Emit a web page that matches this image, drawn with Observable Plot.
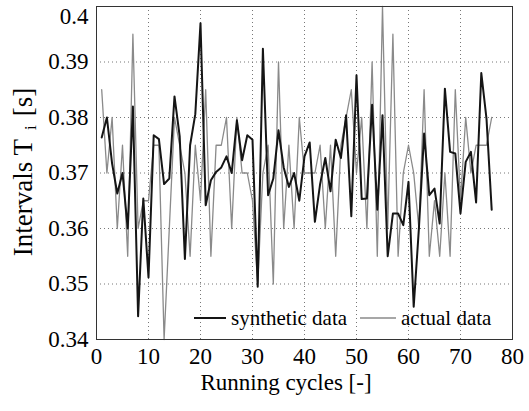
<!DOCTYPE html>
<html><head><meta charset="utf-8">
<script src="https://cdn.jsdelivr.net/npm/d3@7"></script>
<script src="https://cdn.jsdelivr.net/npm/@observablehq/plot@0.6"></script>
<style>
html,body{margin:0;padding:0;background:#fff}
</style>
</head><body><div id="chart"></div>
<script>
const cycles = [1,2,3,4,5,6,7,8,9,10,11,12,13,14,15,16,17,18,19,20,21,22,23,24,25,26,27,28,29,30,31,32,33,34,35,36,37,38,39,40,41,42,43,44,45,46,47,48,49,50,51,52,53,54,55,56,57,58,59,60,61,62,63,64,65,66,67,68,69,70,71,72,73,74,75,76];
const synthetic = [0.3764,0.380,0.3717,0.3663,0.370,0.360,0.382,0.3442,0.3654,0.3512,
  0.3768,0.3761,0.368,0.369,0.3838,0.3766,0.3545,0.375,0.3806,0.397,
  0.3642,0.3687,0.3702,0.371,0.373,0.370,0.3795,0.3723,0.3768,0.376,
  0.3495,0.3924,0.366,0.369,0.3777,0.371,0.3675,0.370,0.365,0.373,
  0.3755,0.3612,0.368,0.3727,0.3667,0.376,0.3727,0.3804,0.3622,0.3876,
  0.3653,0.3654,0.3823,0.3634,0.3804,0.355,0.3627,0.3627,0.3606,0.3684,
  0.3459,0.360,0.3771,0.366,0.3672,0.3609,0.3852,0.3738,0.3735,0.3627,
  0.372,0.3738,0.3647,0.388,0.3798,0.3634];
const actual = [0.385,0.370,0.380,0.360,0.375,0.355,0.395,0.360,0.365,0.365,
  0.375,0.375,0.340,0.360,0.380,0.375,0.370,0.355,0.375,0.365,
  0.385,0.355,0.375,0.375,0.380,0.360,0.380,0.370,0.370,0.365,
  0.350,0.370,0.375,0.350,0.390,0.360,0.375,0.360,0.380,0.370,
  0.370,0.370,0.375,0.360,0.375,0.355,0.375,0.380,0.385,0.370,
  0.380,0.360,0.390,0.355,0.400,0.360,0.395,0.355,0.370,0.375,
  0.370,0.360,0.385,0.355,0.365,0.355,0.370,0.355,0.385,0.365,
  0.380,0.370,0.375,0.375,0.375,0.380];
const xTicks = [0,10,20,30,40,50,60,70,80];
const xTickLabels = ["0","10","20","30","40","50","60","70","80"];
const yTicks = [0.34,0.35,0.36,0.37,0.38,0.39,0.40];
const yTickLabels = ["0.34","0.35","0.36","0.37","0.38","0.39","0.4"];
const seriesNames = ["synthetic data","actual data"];
const xLabel = "Running cycles [-]";
const yLabelMain = "Intervals T";
const yLabelSub = "i";
const yLabelUnit = "[s]";

const FONT = "Liberation Serif, DejaVu Serif, serif";
const synData = cycles.map((c,i)=>({c, v:synthetic[i]}));
const actData = cycles.map((c,i)=>({c, v:actual[i]}));

const plot = Plot.plot({
  width:529, height:411,
  marginLeft:96, marginRight:17, marginTop:6, marginBottom:72,
  style:{fontFamily:FONT, fontSize:"23px", background:"#fff", color:"#000", overflow:"visible"},
  x:{domain:[0,80], label:null},
  y:{domain:[0.34,0.40], label:null},
  marks:[
    Plot.gridX(xTicks,{stroke:"#777", strokeOpacity:1, strokeWidth:1, strokeDasharray:"1,3"}),
    Plot.gridY(yTicks,{stroke:"#777", strokeOpacity:1, strokeWidth:1, strokeDasharray:"1,3"}),
    Plot.axisX({ticks:xTicks, tickFormat:(d)=>xTickLabels[xTicks.indexOf(d)], tickSize:0, tickPadding:8, label:null, fontSize:23, fontFamily:FONT}),
    Plot.axisY({ticks:yTicks, tickFormat:(d)=>yTickLabels[yTicks.indexOf(d)], tickSize:0, tickPadding:8, label:null, fontSize:23, fontFamily:FONT}),
    Plot.line(actData,{x:"c", y:"v", stroke:"#8a8a8a", strokeWidth:1.3}),
    Plot.line(synData,{x:"c", y:"v", stroke:"#151515", strokeWidth:2}),
    Plot.frame({stroke:"#333", strokeWidth:1})
  ]
});
document.getElementById("chart").appendChild(plot);

const svg = d3.select(plot);
svg.selectAll("text").each(function(){
  if (d3.select(this).text()==="0.4") d3.select(this).attr("dy","0.42em");
});
// x axis label
svg.append("text").attr("x",286).attr("y",390)
  .attr("text-anchor","middle").attr("font-size",23).text(xLabel);
// y axis label with subscript
const yl = svg.append("text").attr("transform","translate(32,172) rotate(-90)")
  .attr("text-anchor","middle").attr("font-size",27);
yl.append("tspan").text(yLabelMain);
yl.append("tspan").attr("font-size",17).attr("dx",9).attr("dy",4).text(yLabelSub);
yl.append("tspan").attr("dx",9).attr("dy",-4).text(yLabelUnit);
// legend
const lg = svg.append("g").attr("font-size",21).attr("text-anchor","start");
lg.append("line").attr("x1",194).attr("x2",226).attr("y1",318).attr("y2",318).attr("stroke","#151515").attr("stroke-width",2);
lg.append("text").attr("x",231).attr("y",325).attr("text-anchor","start").text(seriesNames[0]);
lg.append("line").attr("x1",360).attr("x2",396).attr("y1",318).attr("y2",318).attr("stroke","#8a8a8a").attr("stroke-width",1.3);
lg.append("text").attr("x",401).attr("y",325).attr("text-anchor","start").text(seriesNames[1]);
svg.selectAll("text, tspan").attr("font-family",FONT).style("font-family",FONT);
</script></body></html>
